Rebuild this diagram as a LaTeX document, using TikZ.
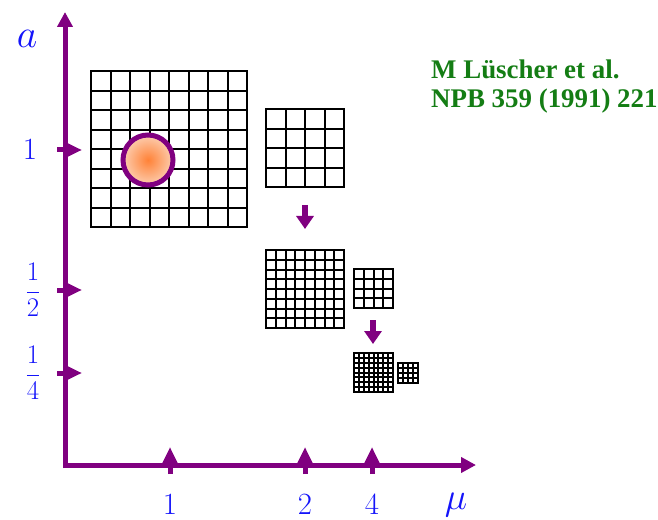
\RequirePackage{fix-cm}
\documentclass[tikz,border=0pt]{standalone}
\usepackage{fontspec}
\newfontfamily\refserif{Liberation Serif}
\usetikzlibrary{arrows.meta,calc}
\definecolor{axpurple}{RGB}{128,0,128}
\definecolor{lblblue}{RGB}{20,20,250}
\definecolor{refgreen}{RGB}{20,125,20}
\definecolor{blobin}{RGB}{255,130,55}
\definecolor{blobout}{RGB}{252,205,175}
\newcommand\latgrid[5]{% x0 y0 size n linewidth
  \draw[line width=#5] (#1,#2) rectangle ++(#3,#3);
  \pgfmathtruncatemacro\gridlast{#4-1}
  \foreach \k in {1,...,\gridlast}{
    \pgfmathsetmacro\gridoff{round(\k*#3/#4)}
    \draw[line width=#5] (#1+\gridoff,#2) -- ++(0,#3);
    \draw[line width=#5] (#1,#2+\gridoff) -- ++(#3,0);
  }}
\begin{document}
\begin{tikzpicture}[x=1bp,y=-1bp,
  axis/.style={draw=axpurple,line width=5bp,-{Triangle[length=15bp,width=15bp]}},
  tick/.style={draw=axpurple,line width=5bp,-{Triangle[length=17bp,width=15bp]}},
  down/.style={draw=axpurple,line width=6bp,-{Triangle[length=13bp,width=17bp]}},
  lbl/.style={text=lblblue,inner sep=0pt},
  ref/.style={text=refgreen,font=\refserif\bfseries\fontsize{27}{29}\selectfont,align=left,inner sep=0pt,anchor=north west}]
\useasboundingbox (0,0) rectangle (658,520);
% axes
\coordinate (o1) at (65,468);
\coordinate (yt) at (65,12);
\coordinate (o2) at (63,465);
\coordinate (xt) at (476,465);
\draw[axis] (o1) -- (yt);
\draw[axis] (o2) -- (xt);
% y ticks
\foreach \y/\n in {150/a,290/b,373/c}{
  \coordinate (ys\n) at (57,\y);
  \coordinate (ye\n) at (82,\y);
  \draw[tick] (ys\n) -- (ye\n);
}
% x ticks
\foreach \x/\n in {170/a,305/b,372/c}{
  \coordinate (xs\n) at (\x,474);
  \coordinate (xe\n) at (\x,447);
  \draw[tick] (xs\n) -- (xe\n);
}
% labels
\node[lbl,font=\fontsize{40}{40}\selectfont] (la) at (27,39) {$a$};
\node[lbl,font=\fontsize{31}{31}\selectfont] (l1) at (30,150) {$1$};
\node[lbl,font=\fontsize{27}{27}\selectfont] (l2) at (33,290) {$\displaystyle\frac{1}{2}$};
\node[lbl,font=\fontsize{27}{27}\selectfont] (l4) at (33,373) {$\displaystyle\frac{1}{4}$};
\node[lbl,font=\fontsize{31}{31}\selectfont] (m1) at (170,505) {$1$};
\node[lbl,font=\fontsize{31}{31}\selectfont] (m2) at (305,505) {$2$};
\node[lbl,font=\fontsize{31}{31}\selectfont] (m4) at (372,505) {$4$};
\node[lbl,font=\fontsize{38}{38}\selectfont] (mu) at (456,505) {$\mu$};
% grids
\latgrid{91}{71}{156}{8}{2bp}
\latgrid{266}{109}{78}{4}{2bp}
\latgrid{266}{250}{78}{8}{1.6bp}
\latgrid{354}{269}{39}{4}{1.6bp}
\latgrid{354}{353}{39}{8}{1.3bp}
\latgrid{398}{363}{20}{4}{1.3bp}
% blob
\shade[inner color=blobin,outer color=blobout] (148,160) circle (25);
\draw[axpurple,line width=5bp] (148,160) circle (25);
% arrows
\coordinate (d1s) at (305,205);
\coordinate (d1e) at (305,229);
\draw[down] (d1s) -- (d1e);
\coordinate (d2s) at (373,320);
\coordinate (d2e) at (373,344);
\draw[down] (d2s) -- (d2e);
% reference
\node[ref] (cite) at (431,60) {M Lüscher et al.\\NPB 359 (1991) 221};
\end{tikzpicture}
\end{document}
